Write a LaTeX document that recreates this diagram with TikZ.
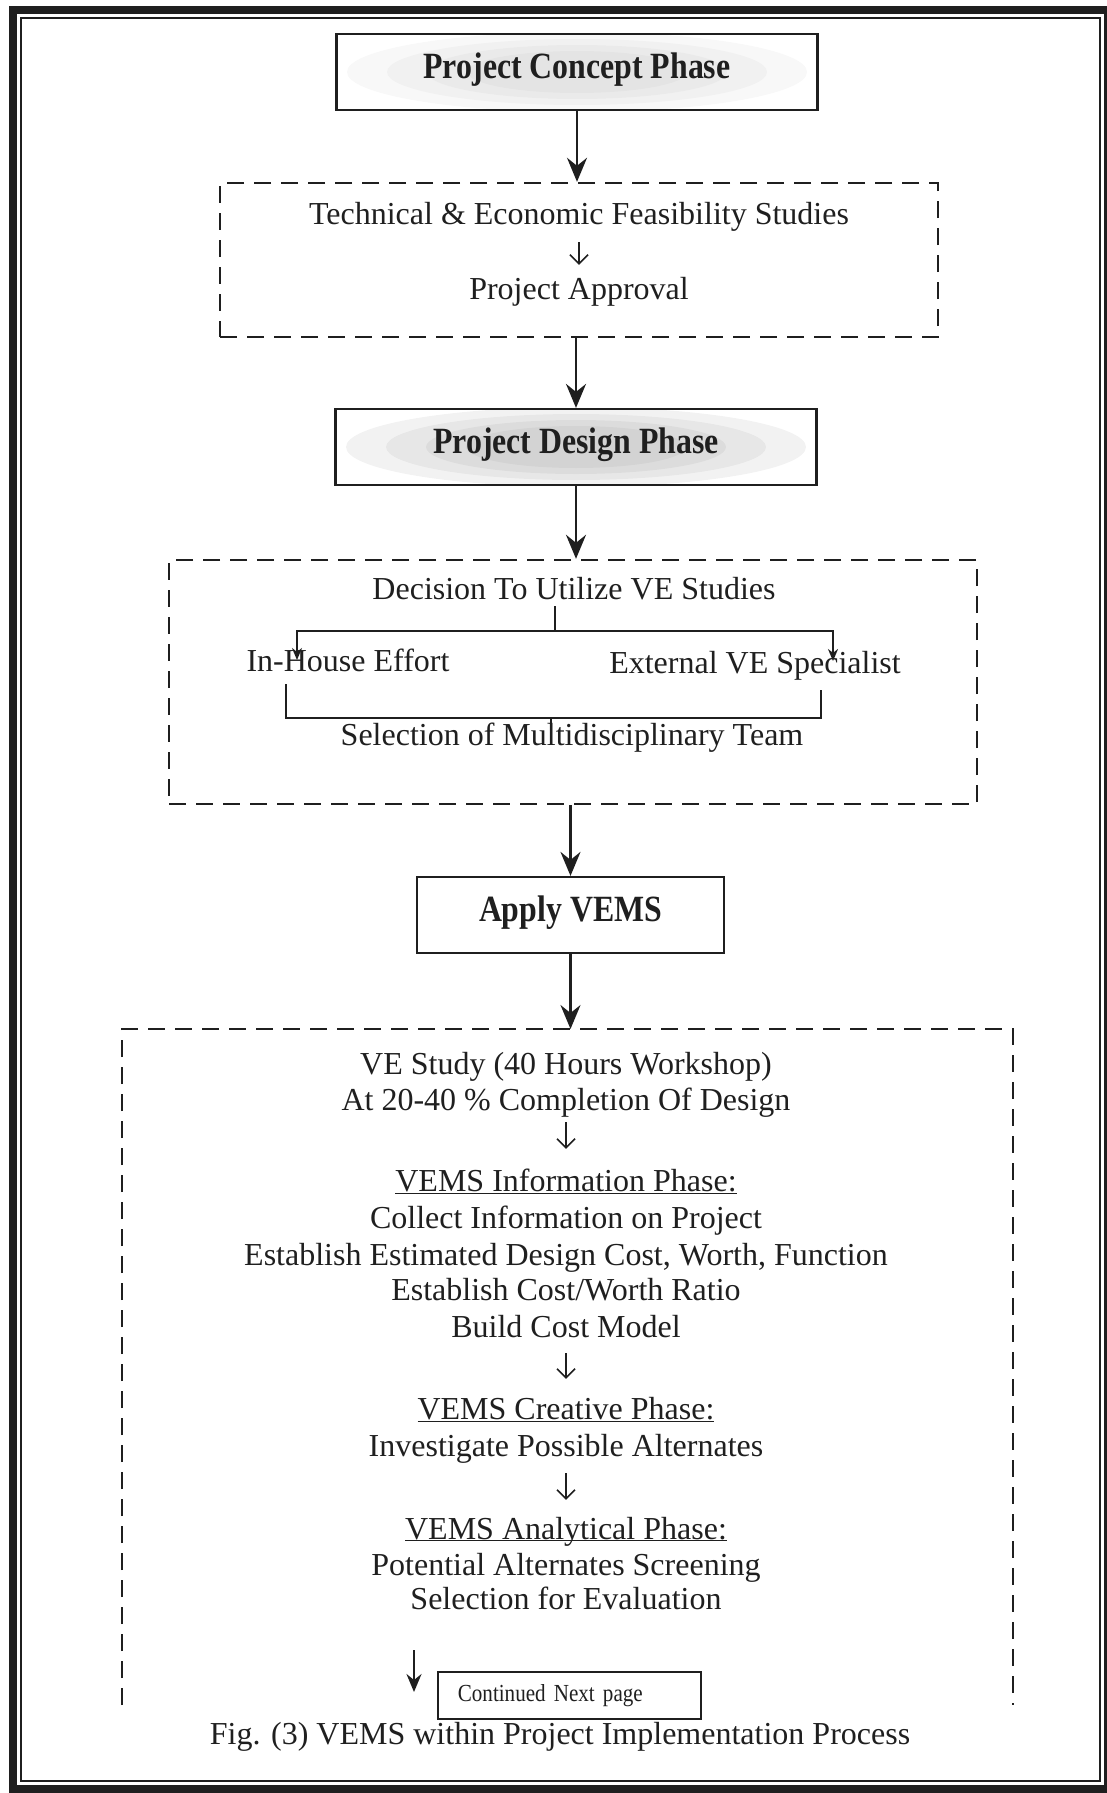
\documentclass[tikz,border=0pt]{standalone}
\usepackage{fontspec}
\setmainfont{Liberation Serif}
\newfontfamily\headfont[FakeStretch=0.86]{Liberation Serif}
\usetikzlibrary{arrows.meta}

\definecolor{ink}{gray}{0.12}

\tikzset{
  phasebox/.style={draw=ink, line width=2.2pt, minimum height=76pt, inner sep=0pt,
    text=ink, font=\headfont\bfseries\fontsize{37}{40}\selectfont,
    text height=26pt, text depth=14pt},
  dashbox/.style={draw=ink, line width=2.4pt, dash pattern=on 17pt off 10pt},
  textline/.style={anchor=base, inner sep=0pt, text=ink,
    font=\fontsize{32}{36}\selectfont, text height=22pt, text depth=7pt},
  flow/.style={draw=ink, line width=2.4pt, -{Stealth[length=24pt,width=20pt,inset=8pt]}},
  shortflow/.style={draw=ink, line width=2.4pt, -{Stealth[length=18pt,width=15pt,inset=6pt]}},
  thinarrow/.style={draw=ink, line width=1.5pt, -{Straight Barb[length=9pt,width=18pt]}},
  bracket/.style={draw=ink, line width=2pt},
  brarrow/.style={bracket, -{Stealth[length=12pt,width=10pt]}},
  % soft grey patch behind a heading, darkest round the text
  haze/.style={path picture={
     \foreach \rx/\ry in {230/40, 190/33, 150/27, 110/21}
       \fill[gray, opacity=#1] (path picture bounding box.center) ellipse [x radius=\rx pt, y radius=\ry pt];}},
}

\begin{document}
\begin{tikzpicture}[x=1pt, y=-1pt]
\useasboundingbox (0,0) rectangle (1106,1793);

% page frame: heavy rule with a thin rule inside
\draw[draw=ink, line width=8pt] (13,10) rectangle (1108,1789);
\draw[draw=ink, line width=2.5pt] (21,18) rectangle (1100,1781);

% concept and feasibility
\node[phasebox, haze=0.06, minimum width=481pt] (concept) at (577,72) {Project Concept Phase};
\node[dashbox, minimum width=718pt, minimum height=154pt] (feasbox) at (579,260) {};
\node[textline] (feas) at (579,224) {Technical \& Economic Feasibility Studies};
\node[textline] (approval) at (579,299) {Project Approval};
\draw[thinarrow, shorten <=11pt, shorten >=12pt] (feas.south) -- (approval.north);

% design phase
\node[phasebox, haze=0.1, minimum width=481pt] (design) at (576,447) {Project Design Phase};

% decision block
\node[dashbox, minimum width=808pt, minimum height=244pt] (decbox) at (573,682) {};
\node[textline] (decision) at (574,599) {Decision To Utilize VE Studies};
\node[textline] (inhouse) at (348,671) {In-House Effort};
\node[textline] (external) at (755,673) {External VE Specialist};
\node[textline] (team) at (572,745) {Selection of Multidisciplinary Team};

\coordinate (split) at (555,631);
\coordinate (toin) at (297,660);
\coordinate (toext) at (833,661);
\draw[bracket] (decision.south -| split) -- (split);
\draw[brarrow] (split) -| (toin);
\draw[brarrow] (split) -| (toext);

\coordinate (fromin) at (286,684);
\coordinate (fromext) at (821,690);
\coordinate (join) at (551,718);
\coordinate (intoteam) at (551,733);
\draw[bracket] (fromin) |- (join) -| (fromext);
\draw[bracket] (join) -- (intoteam);

% apply VEMS
\node[phasebox, minimum width=307pt] (apply) at (570.5,915) {Apply VEMS};

% VE study block (open at the bottom)
\coordinate (vetop) at (570.5,1029);
\draw[dashbox] (122,1705) -- (122,1029) -- (1013,1029) -- (1013,1705);

\node[textline] (ve1) at (566,1074) {VE Study (40 Hours Workshop)};
\node[textline] (ve2) at (566,1110) {At 20-40 \% Completion Of Design};
\node[textline] (info) at (566,1191) {\underline{VEMS Information Phase:}};
\node[textline] (info1) at (566,1228) {Collect Information on Project};
\node[textline] (info2) at (566,1265) {Establish Estimated Design Cost, Worth, Function};
\node[textline] (info3) at (566,1300) {Establish Cost/Worth Ratio};
\node[textline] (info4) at (566,1337) {Build Cost Model};
\node[textline] (creat) at (566,1419) {\underline{VEMS Creative Phase:}};
\node[textline] (creat1) at (566,1456) {Investigate Possible Alternates};
\node[textline] (anal) at (566,1539) {\underline{\smash{VEMS Analytical Phase:}}};
\node[textline] (anal1) at (566,1575) {Potential Alternates Screening};
\node[textline] (anal2) at (566,1609) {Selection for Evaluation};

\draw[thinarrow, shorten <=5pt, shorten >=20pt] (ve2.south) -- (info.north);
\draw[thinarrow, shorten <=9pt, shorten >=18pt] (info4.south) -- (creat.north);
\draw[thinarrow, shorten <=10pt, shorten >=17pt] (creat1.south) -- (anal.north);

% continuation note
\coordinate (contstart) at (414,1650);
\coordinate (contend) at (414,1692);
\draw[shortflow] (contstart) -- (contend);
\node[draw=ink, line width=1.8pt, anchor=west, minimum height=47pt, text width=223pt,
      align=left, inner xsep=20pt, inner ysep=0pt, text=ink,
      font=\headfont\fontsize{24.5}{28}\selectfont] (cont) at (437,1695.5) {Continued Next page};

% caption
\node[textline] (caption) at (560,1744) {Fig. (3) VEMS within Project Implementation Process};

% main flow
\draw[flow] (concept.south) -- (concept.south |- feasbox.north);
\draw[flow] (design.north |- feasbox.south) -- (design.north);
\draw[flow] (design.south) -- (design.south |- decbox.north);
\draw[flow] (apply.north |- decbox.south) -- (apply.north);
\draw[flow] (apply.south) -- (vetop);
\end{tikzpicture}
\end{document}
